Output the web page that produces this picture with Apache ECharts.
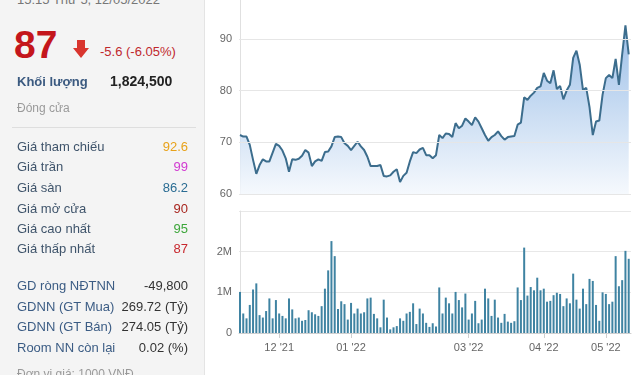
<!DOCTYPE html>
<html>
<head>
<meta charset="utf-8">
<script src="https://cdn.jsdelivr.net/npm/echarts@6/dist/echarts.min.js"></script>
<style>
  html, body { margin: 0; padding: 0; width: 640px; height: 375px; overflow: hidden; background: #fff; font-family: "Liberation Sans", Arial, sans-serif; }
  #chart { position: absolute; left: 0; top: 0; width: 640px; height: 375px; }
  #panel { position: absolute; left: 0; top: 0; width: 204px; height: 375px; background: #f4f4f4; border-right: 1px solid #e4e4e4; z-index: 2; }
  .t { position: absolute; white-space: nowrap; line-height: 1; }
  .lbl { left: 17px; font-size: 13px; color: #3f546b; }
  .val { right: 16px; font-size: 13px; }
  .lbl2 { left: 17px; font-size: 13px; color: #3b5c84; }
  .val2 { right: 16px; font-size: 13px; color: #333; }
</style>
</head>
<body>
<div id="chart"></div>
<div id="panel">
  <div class="t" style="left:17px;top:-7px;font-size:13px;color:#777;">15:15 Thứ 5, 12/05/2022</div>
  <div class="t" style="left:14px;top:25px;font-size:39px;font-weight:bold;color:#c4161c;">87</div>
  <svg class="t" style="left:73px;top:40px;" width="16" height="18" viewBox="0 0 16 18">
    <polygon points="4,0 12,0 12,8 16,8 8,18 0,8 4,8" fill="#d9352e"/>
  </svg>
  <div class="t" style="left:100px;top:45px;font-size:13px;color:#c0282d;">-5.6 (-6.05%)</div>
  <div class="t" style="left:17px;top:75px;font-size:13px;font-weight:bold;color:#3b5a80;">Khối lượng</div>
  <div class="t" style="left:110px;top:74px;font-size:14px;font-weight:bold;color:#222;">1,824,500</div>
  <div class="t" style="left:17px;top:102px;font-size:12px;color:#9a9a9a;">Đóng cửa</div>
  <div class="t" style="left:12px;top:127px;width:184px;height:1px;background:#dedede;"></div>

  <div class="t lbl" style="top:140px;">Giá tham chiếu</div><div class="t val" style="top:140px;color:#e8a21a;">92.6</div>
  <div class="t lbl" style="top:160px;">Giá trần</div><div class="t val" style="top:160px;color:#d13ad1;">99</div>
  <div class="t lbl" style="top:181px;">Giá sàn</div><div class="t val" style="top:181px;color:#2a6c93;">86.2</div>
  <div class="t lbl" style="top:202px;">Giá mở cửa</div><div class="t val" style="top:202px;color:#a8261f;">90</div>
  <div class="t lbl" style="top:222px;">Giá cao nhất</div><div class="t val" style="top:222px;color:#3ca63a;">95</div>
  <div class="t lbl" style="top:242px;">Giá thấp nhất</div><div class="t val" style="top:242px;color:#c8282e;">87</div>

  <div class="t lbl2" style="top:279px;">GD ròng NĐTNN</div><div class="t val2" style="top:279px;">-49,800</div>
  <div class="t lbl2" style="top:300px;">GDNN (GT Mua)</div><div class="t val2" style="top:300px;">269.72 (Tỷ)</div>
  <div class="t lbl2" style="top:320px;">GDNN (GT Bán)</div><div class="t val2" style="top:320px;">274.05 (Tỷ)</div>
  <div class="t lbl2" style="top:341px;">Room NN còn lại</div><div class="t val2" style="top:341px;">0.02 (%)</div>
  <div class="t" style="left:17px;top:368px;font-size:12px;color:#999;">Đơn vị giá: 1000 VNĐ</div>
</div>
<script>
// Closing prices (thousand VND), one per trading day, mid-Nov 2021 .. 12/05/2022
const prices = [
  71.4, 71.1, 71.1, 69.5, 66.6, 63.9, 65.6, 66.7, 66.3, 66.3,
  68.0, 69.7, 69.3, 68.4, 66.9, 64.3, 66.7, 66.6, 66.8, 67.4,
  68.5, 68.0, 65.4, 66.3, 66.7, 66.4, 68.1, 68.2, 69.2, 71.0,
  71.1, 71.0, 69.8, 69.3, 68.5, 69.3, 70.1, 69.2, 68.5, 67.2,
  65.4, 65.4, 65.4, 65.6, 63.5, 63.4, 63.6, 64.3, 64.8, 62.3,
  63.5, 64.1, 66.3, 68.1, 67.9, 68.6, 68.9, 67.5, 67.5, 66.9,
  67.5, 71.4, 70.8, 71.7, 71.6, 71.0, 73.7, 72.7, 73.2, 74.6,
  74.0, 73.3, 74.8, 74.0, 72.7, 71.4, 70.3, 71.0, 71.4, 72.1,
  71.2, 70.5, 71.0, 71.1, 71.2, 73.4, 73.8, 78.7, 78.2, 79.0,
  79.6, 80.5, 80.8, 83.4, 81.9, 81.4, 83.9, 80.3, 80.9, 78.3,
  80.0, 81.1, 86.3, 87.7, 85.0, 80.1, 80.5, 76.8, 71.4, 74.0,
  74.2, 79.2, 82.4, 83.0, 82.4, 86.1, 81.1, 87.0, 92.6, 87.0
];
// Volumes (millions of shares)
const volumes = [
  1.01, 0.48, 0.36, 0.69, 1.07, 1.22, 0.44, 0.38, 0.54, 0.85,
  0.36, 0.81, 0.48, 0.42, 0.36, 0.85, 0.58, 0.36, 0.38, 0.30,
  0.32, 0.56, 0.51, 0.46, 0.42, 0.66, 1.09, 1.54, 2.26, 1.89,
  0.59, 0.78, 0.71, 0.33, 0.74, 0.48, 0.60, 0.48, 0.51, 0.85,
  0.87, 0.47, 0.36, 0.14, 0.82, 0.38, 0.09, 0.14, 0.17, 0.36,
  0.30, 0.48, 0.52, 0.73, 0.22, 0.60, 0.48, 0.25, 0.15, 0.24,
  0.16, 1.12, 0.48, 0.87, 0.73, 0.48, 1.01, 0.81, 0.63, 0.97,
  0.33, 0.48, 0.79, 0.24, 0.33, 1.09, 0.85, 0.42, 0.82, 0.38,
  0.25, 0.47, 0.28, 0.25, 0.29, 1.12, 0.81, 2.10, 0.92, 1.13,
  1.05, 1.36, 1.05, 1.09, 0.77, 0.79, 0.93, 0.99, 0.96, 0.66,
  0.85, 0.73, 1.46, 0.82, 0.60, 1.09, 0.71, 1.33, 1.28, 0.69,
  0.30, 1.00, 0.96, 0.71, 0.77, 1.89, 1.15, 1.30, 2.02, 1.8245
];
// Month tick positions (trading-day index) and labels
const monthTickIndex = [12, 34, 70, 93, 112];
const monthTickLabels = ["12 '21", "01 '22", "03 '22", "04 '22", "05 '22"];
const priceTicks = [60, 70, 80, 90];
const volumeTicks = ["0", "1M", "2M"];

const priceData = prices.map((v, i) => [i, v]);
const volumeData = volumes.map((v, i) => [i, v]);

const chart = echarts.init(document.getElementById('chart'), null, { renderer: 'canvas' });
const axisFont = { color: '#666', fontSize: 11, fontFamily: 'Liberation Sans, Arial, sans-serif' };
chart.setOption({
  animation: false,
  backgroundColor: 'transparent',
  grid: [
    { left: 239, right: 9, top: 0, height: 194 },
    { left: 239, right: 9, top: 211, height: 122 }
  ],
  xAxis: [
    { type: 'value', gridIndex: 0, min: -0.3, max: 119.7,
      axisLine: { show: false }, axisTick: { show: false }, axisLabel: { show: false }, splitLine: { show: false } },
    { type: 'value', gridIndex: 1, min: -0.3, max: 119.7,
      axisLine: { show: true, lineStyle: { color: '#cfcfcf' } },
      axisTick: { show: true, customValues: monthTickIndex, length: 5, lineStyle: { color: '#cfcfcf' } },
      axisLabel: Object.assign({ customValues: monthTickIndex, margin: 9,
        formatter: v => monthTickLabels[monthTickIndex.indexOf(Math.round(v))] || '' }, axisFont),
      splitLine: { show: false } }
  ],
  yAxis: [
    { type: 'value', gridIndex: 0, min: 60, max: 97.5,
      axisLine: { show: true, lineStyle: { color: '#e0e0e0' } }, axisTick: { show: false },
      axisLabel: Object.assign({ margin: 7, customValues: priceTicks }, axisFont),
      splitLine: { show: false } },
    { type: 'value', gridIndex: 1, min: 0, max: 3, interval: 1,
      axisLine: { show: true, lineStyle: { color: '#e0e0e0' } }, axisTick: { show: false },
      axisLabel: Object.assign({ margin: 7, formatter: v => volumeTicks[v] || '' }, axisFont),
      splitLine: { lineStyle: { color: '#e8e8e8' } } }
  ],
  series: [
    { type: 'line', xAxisIndex: 0, yAxisIndex: 0, data: [], z: 1,
      markLine: { silent: true, symbol: 'none', label: { show: false },
        lineStyle: { color: '#e6e6e6', type: 'solid', width: 1 },
        data: priceTicks.map(v => ({ yAxis: v })) } },
    { type: 'line', xAxisIndex: 0, yAxisIndex: 0, data: priceData, symbol: 'none', z: 2,
      lineStyle: { color: '#3c6d8d', width: 2 },
      areaStyle: { opacity: 0.85, color: { type: 'linear', x: 0, y: 18, x2: 0, y2: 194, global: true,
        colorStops: [ { offset: 0, color: '#86b1e3' }, { offset: 1, color: '#f4f8fd' } ] } } },
    { type: 'bar', xAxisIndex: 1, yAxisIndex: 1, data: volumeData, barWidth: 2,
      itemStyle: { color: '#3f83a2' } }
  ]
});
</script>
</body>
</html>
